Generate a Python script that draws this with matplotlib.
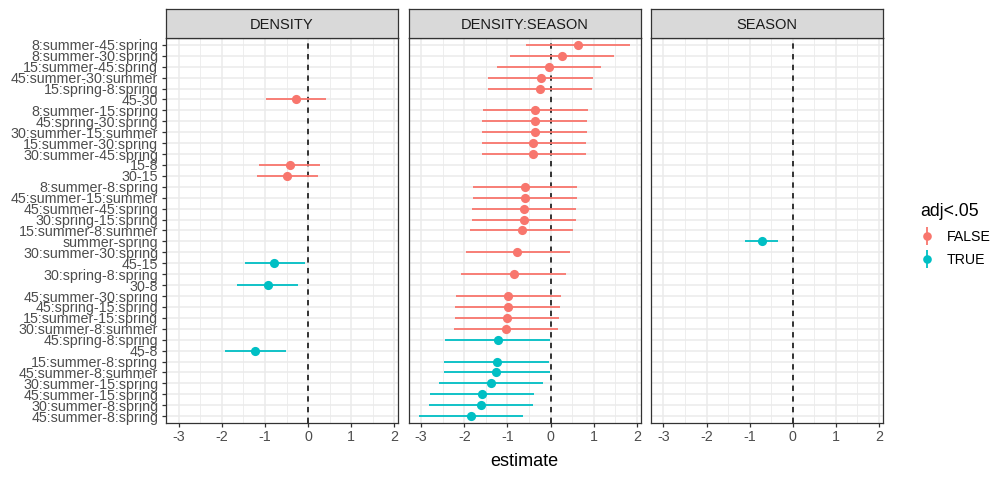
import matplotlib
matplotlib.use("Agg")
import matplotlib.pyplot as plt
from matplotlib.lines import Line2D
from matplotlib.legend_handler import HandlerTuple
import numpy as np

plt.rcParams['font.family'] = ['Liberation Sans', 'DejaVu Sans']

# ------------------ data ------------------
contrast = ["8:summer-45:spring", "8:summer-30:spring", "15:summer-45:spring",
            "45:summer-30:summer", "15:spring-8:spring", "45-30",
            "8:summer-15:spring", "45:spring-30:spring", "30:summer-15:summer",
            "15:summer-30:spring", "30:summer-45:spring", "15-8", "30-15",
            "8:summer-8:spring", "45:summer-15:summer", "45:summer-45:spring",
            "30:spring-15:spring", "15:summer-8:summer", "summer-spring",
            "30:summer-30:spring", "45-15", "30:spring-8:spring", "30-8",
            "45:summer-30:spring", "45:spring-15:spring", "15:summer-15:spring",
            "30:summer-8:summer", "45:spring-8:spring", "45-8",
            "15:summer-8:spring", "45:summer-8:summer", "30:summer-15:spring",
            "45:summer-15:spring", "30:summer-8:spring", "45:summer-8:spring"]
term = ["DENSITY:SEASON"] * 5 + ["DENSITY"] + ["DENSITY:SEASON"] * 5 + ["DENSITY"] * 2 \
    + ["DENSITY:SEASON"] * 5 + ["SEASON", "DENSITY:SEASON", "DENSITY", "DENSITY:SEASON", "DENSITY"] \
    + ["DENSITY:SEASON"] * 5 + ["DENSITY"] + ["DENSITY:SEASON"] * 6
estimate = [0.635, 0.26, -0.03, -0.23, -0.25, -0.29, -0.36, -0.37, -0.37, -0.40, -0.40,
            -0.43, -0.49, -0.60, -0.60, -0.62, -0.62, -0.66, -0.72, -0.77, -0.78, -0.86,
            -0.94, -0.98, -0.99, -1.01, -1.03, -1.23, -1.23, -1.25, -1.26, -1.38, -1.60,
            -1.62, -1.84]
lower = [-0.58, -0.95, -1.24, -1.44, -1.46, -0.98, -1.56, -1.58, -1.58, -1.60, -1.60,
         -1.14, -1.19, -1.80, -1.80, -1.83, -1.83, -1.88, -1.10, -1.97, -1.47, -2.07,
         -1.64, -2.20, -2.21, -2.22, -2.24, -2.44, -1.93, -2.46, -2.46, -2.59, -2.80,
         -2.83, -3.05]
upper = [1.84, 1.47, 1.18, 0.98, 0.96, 0.42, 0.86, 0.84, 0.84, 0.81, 0.81,
         0.27, 0.23, 0.62, 0.62, 0.60, 0.59, 0.53, -0.35, 0.44, -0.07, 0.35,
         -0.23, 0.23, 0.22, 0.20, 0.18, -0.02, -0.52, -0.03, -0.02, -0.17, -0.39,
         -0.41, -0.63]
signif = [u < 0 for u in upper]

facets = ["DENSITY", "DENSITY:SEASON", "SEASON"]
x_ticks = [-3, -2, -1, 0, 1, 2]
col_false = "#F8766D"
col_true = "#00BFC4"

# ------------------ figure ------------------
fig = plt.figure(figsize=(10.08, 4.8), dpi=100)
W, H = 1008.0, 480.0
panel_left = [166, 408.5, 650.7]
panel_w = 232
p_top, p_bot = 38.3, 422.7
s_top = 9.3

n = len(contrast)
ypos = np.arange(1, n + 1)
xmin = min(lower) - 0.05 * (max(upper) - min(lower))
xmax = max(upper) + 0.05 * (max(upper) - min(lower))

for k, f in enumerate(facets):
    ax = fig.add_axes([panel_left[k] / W, 1 - p_bot / H, panel_w / W, (p_bot - p_top) / H])
    # grid
    for v in np.arange(-3.5, 2.6, 1.0):
        ax.axvline(v, color="#EBEBEB", lw=0.6, zorder=0)
    for v in x_ticks:
        ax.axvline(v, color="#EBEBEB", lw=1.1, zorder=0)
    for v in ypos:
        ax.axhline(v, color="#EBEBEB", lw=1.1, zorder=0)
    ax.axvline(0, color="black", lw=1.1, dashes=(3.5, 3.5), zorder=1)

    for i in range(n):
        if term[i] != f:
            continue
        c = col_true if signif[i] else col_false
        ax.plot([lower[i], upper[i]], [ypos[i], ypos[i]], color=c, lw=1.3, zorder=2,
                solid_capstyle='butt')
        ax.plot(estimate[i], ypos[i], 'o', color=c, ms=6.6, mec='none', zorder=3)

    ax.set_xlim(xmin, xmax)
    ax.set_ylim(n + 0.6, 0.4)
    ax.set_xticks(x_ticks)
    ax.set_xticklabels([str(t) for t in x_ticks], fontsize=10.3, color="#4D4D4D")
    ax.set_yticks(ypos)
    if k == 0:
        ax.set_yticklabels(contrast, fontsize=10.3, color="#4D4D4D")
    else:
        ax.set_yticklabels([])
    ax.tick_params(axis='both', length=3, width=0.9, color="#333333", pad=2.5)
    if k != 0:
        ax.tick_params(axis='y', length=0)
    for s in ax.spines.values():
        s.set_color("#333333")
        s.set_linewidth(0.9)

    # strip
    sax = fig.add_axes([panel_left[k] / W, 1 - p_top / H, panel_w / W, (p_top - s_top) / H])
    sax.set_facecolor("#D9D9D9")
    sax.set_xticks([])
    sax.set_yticks([])
    for s in sax.spines.values():
        s.set_color("#333333")
        s.set_linewidth(0.9)
    sax.text(0.5, 0.47, f, ha='center', va='center', fontsize=10.5, color="#1A1A1A",
             transform=sax.transAxes)

fig.text(524 / W, 1 - 461 / H, "estimate", ha='center', va='center', fontsize=13)

# legend
handles = []
for c in [col_false, col_true]:
    handles.append((Line2D([], [], color=c, marker='|', ms=13, mew=1.3, ls='none'),
                    Line2D([], [], color=c, marker='o', ms=6.2, mec='none', ls='none')))
fig.legend(handles, ["FALSE", "TRUE"], title="adj<.05", loc='upper left',
           bbox_to_anchor=(913 / W, 1 - 196 / H), frameon=False, fontsize=10.2,
           title_fontsize=12.7, alignment='left', borderpad=0, handlelength=1.0,
           handletextpad=0.9, labelspacing=0.68,
           handler_map={tuple: HandlerTuple(ndivide=1, pad=0)})

fig.savefig("out.png", dpi=100)
